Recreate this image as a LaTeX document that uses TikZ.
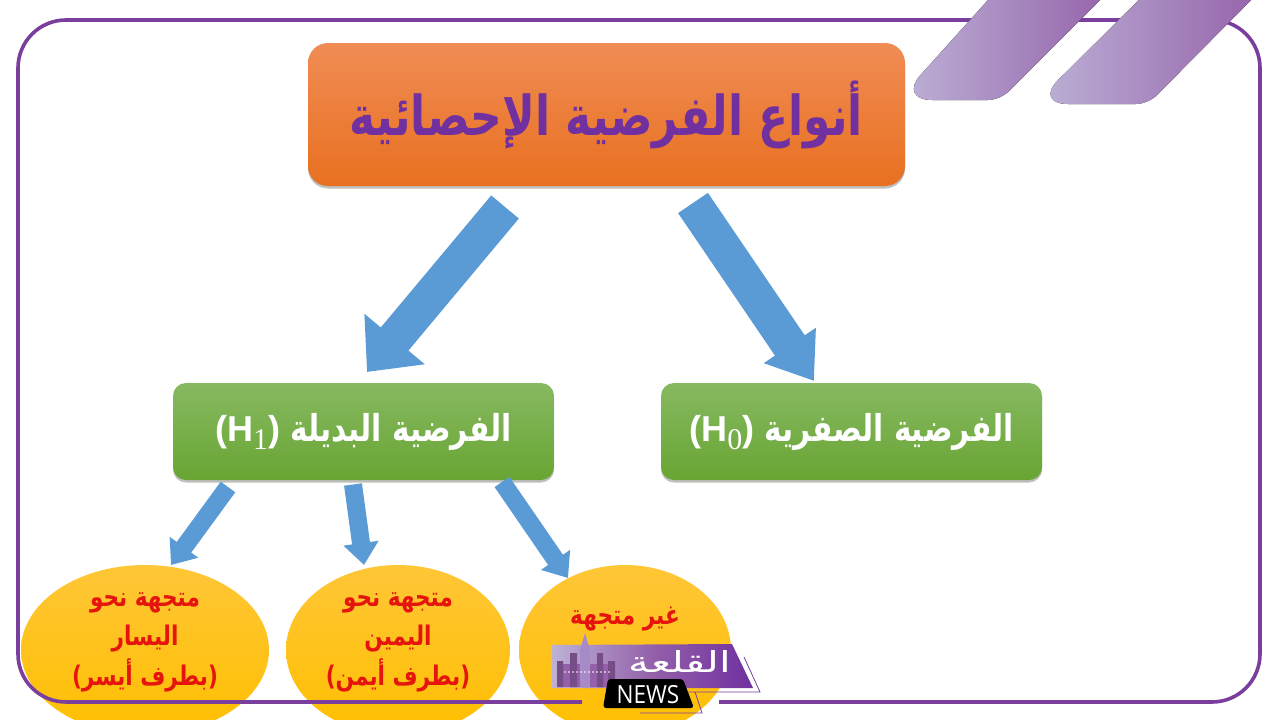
\documentclass[tikz,border=0pt]{standalone}
\usepackage{fontspec}
\usetikzlibrary{arrows.meta,shapes.geometric,shadows}
\newfontfamily\arabicfont[Script=Arabic,FakeStretch=0.8]{DejaVu Sans}
\newfontfamily\logofont[Script=Arabic,FakeStretch=1.45]{DejaVu Sans}
\newfontfamily\latinfont{Liberation Sans}
\newfontfamily\serifnum{Liberation Serif}
\newfontfamily\newsfont[FakeStretch=0.9]{Open Sans}
\TeXXeTstate=1
\newcommand{\hypo}[1]{\beginL{\latinfont\bfseries\fontsize{36}{36}\selectfont (H\raisebox{-8pt}{\serifnum\mdseries\fontsize{30}{30}\selectfont #1})}\endL}
\definecolor{framepurple}{HTML}{7A3E9D}
\definecolor{titlepurple}{HTML}{7030A0}
\definecolor{arrowblue}{HTML}{5B9BD5}
\definecolor{greentop}{HTML}{87B961}
\definecolor{greenbottom}{HTML}{68A533}
\definecolor{yellowtop}{HTML}{FFC637}
\definecolor{yellowbottom}{HTML}{FFBF00}
\definecolor{redtext}{HTML}{E5140C}
\definecolor{stripeleft}{HTML}{BDB2D6}
\definecolor{striperight}{HTML}{9360A9}
\definecolor{titletop}{HTML}{F08C54}
\definecolor{titlebottom}{HTML}{E87020}
\tikzset{
    softshadow/.style={drop shadow={shadow xshift=0pt,shadow yshift=-2.5pt,fill=black,opacity=.25}},
    mainbox/.style={rounded corners=20pt,minimum width=597pt,minimum height=143pt,inner sep=0pt,top color=titletop,bottom color=titlebottom,softshadow,text=titlepurple,font=\arabicfont\bfseries\fontsize{55}{55}\selectfont},
    hypobox/.style={rounded corners=13pt,minimum width=381pt,minimum height=97pt,inner sep=0pt,top color=greentop,bottom color=greenbottom,softshadow,text=white,font=\arabicfont\bfseries\fontsize{37}{37}\selectfont},
    oval/.style={ellipse,minimum height=170pt,inner sep=0pt,top color=yellowtop,bottom color=yellowbottom},
    ovaltext/.style={text=redtext,align=center,inner sep=0pt,font=\arabicfont\bfseries\fontsize{27}{39.5}\selectfont},
    bigarrow/.style={arrowblue,line width=36pt,-{Triangle[length=43pt,width=#1]}},
    smallarrow/.style={arrowblue,line width=18pt,-{Triangle[length=22pt,width=34pt]}},
    stripe/.style={left color=stripeleft,right color=striperight},
}
\begin{document}
\begin{tikzpicture}[x=1pt,y=-1pt]
    \clip (0,0) rectangle (1280,720);
    \fill[white] (0,0) rectangle (1280,720);
    \node[oval,minimum width=248pt] (leftoval) at (145,650) {};
    \node[oval,minimum width=224pt] (rightoval) at (398,650) {};
    \node[oval,minimum width=212pt] (twooval) at (625,650) {};
    \draw[framepurple,line width=3.6pt,rounded corners=48pt] (582,702)--(18,702)--(18,20)--(1260,20)--(1260,702)--(719,702);
    \fill[stripe] (1006,-20)[rounded corners=34pt]--(898,100)[rounded corners=12pt]--(1000,100)--(1120,-20)--cycle;
    \fill[stripe] (1159,-20)[rounded corners=34pt]--(1034,104)[rounded corners=12pt]--(1148,104)--(1271,-20)--cycle;
    \node[mainbox] (title) at (606.5,114.5) {\beginR أنواع الفرضية الإحصائية\endR};
    \node[hypobox] (alt) at (363.5,431.5) {\beginR الفرضية البديلة \hypo{1}\endR};
    \node[hypobox] (null) at (851.5,431.5) {\beginR الفرضية الصفرية \hypo{0}\endR};
    \coordinate (altfrom) at (505,207);
    \coordinate (altto) at (367,372);
    \coordinate (nullfrom) at (693,203);
    \coordinate (nullto) at (814,381);
    \coordinate (leftfrom) at (228,487);
    \coordinate (leftto) at (171,565);
    \coordinate (rightfrom) at (353,484.5);
    \coordinate (rightto) at (364,565);
    \coordinate (twofrom) at (502,482);
    \coordinate (twoto) at (568,578);
    \draw[bigarrow=76pt] (altfrom)--(altto);
    \draw[bigarrow=60pt] (nullfrom)--(nullto);
    \draw[smallarrow] (leftfrom)--(leftto);
    \draw[smallarrow] (rightfrom)--(rightto);
    \draw[smallarrow] (twofrom)--(twoto);
    \node[ovaltext] (lefttext) at (145,642) {\beginR متجهة نحو\endR\\\beginR اليسار\endR\\\beginR (بطرف أيسر)\endR};
    \node[ovaltext] (righttext) at (398,642) {\beginR متجهة نحو\endR\\\beginR اليمين\endR\\\beginR (بطرف أيمن)\endR};
    \node[ovaltext] (twotext) at (625,619) {\beginR غير متجهة\endR};
    % logo
    \draw[framepurple,line width=.8pt] (744,657)--(760,692)--(683,692) (695,692)--(702,713)--(640,713);
    \shade[left color=stripeleft,right color=titlepurple,middle color=striperight] (552,645)--(732,644)--(753,688)--(552,688)--cycle;
    \fill[striperight] (563,664) rectangle (610,687);
    \fill[striperight!80!black] (557,661) rectangle (563,687) (570,653) rectangle (577,687) (597,653) rectangle (603,687) (608,661) rectangle (615,687);
    \fill[stripeleft!70!titlepurple] (585,633)--(590,650)--(590,687)--(580,687)--(580,650)--cycle;
    \foreach \x in {565,569,...,609} \fill[white] (\x,672) circle (.8pt);
    \node[text=white,inner sep=0pt,font=\logofont\fontsize{29}{29}\selectfont] (logoname) at (680,661) {\beginR القلعة\endR};
    \fill[black,rounded corners=3pt] (608,679)--(683,679)--(694,708)--(603,708)--cycle;
    \node[text=white,inner sep=0pt,font=\newsfont\fontsize{25}{25}\selectfont] (news) at (648,695) {NEWS};
\end{tikzpicture}
\end{document}
